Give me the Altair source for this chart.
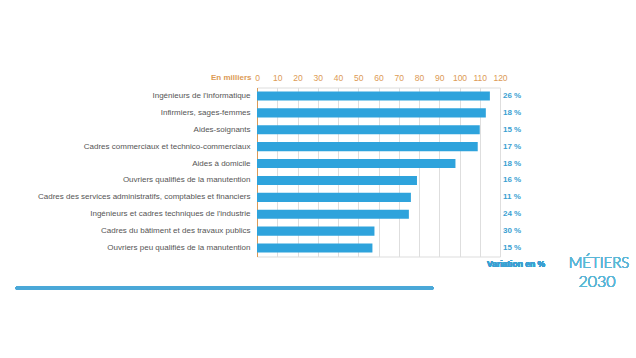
import altair as alt
import pandas as pd

categories = [
    "Ingénieurs de l'informatique",
    "Infirmiers, sages-femmes",
    "Aides-soignants",
    "Cadres commerciaux et technico-commerciaux",
    "Aides à domicile",
    "Ouvriers qualifiés de la manutention",
    "Cadres des services administratifs, comptables et financiers",
    "Ingénieurs et cadres techniques de l'industrie",
    "Cadres du bâtiment et des travaux publics",
    "Ouvriers peu qualifiés de la manutention",
]
values = [115, 113, 110, 109, 98, 79, 76, 75, 58, 57]
variations = ["26 %", "18 %", "15 %", "17 %", "18 %", "16 %", "11 %", "24 %", "30 %", "15 %"]
x_ticks = [0, 10, 20, 30, 40, 50, 60, 70, 80, 90, 100, 110, 120]

df = pd.DataFrame({"cat": categories, "val": values, "var": variations})

BLUE = "#2ea3dc"
ORANGE = "#dc9a55"
W, H = 243, 169

y_axis = alt.Axis(
    title=None, labelColor="#555555", labelFontSize=8, labelFont="Liberation Sans",
    ticks=False, labelPadding=7, domainColor=ORANGE, domainWidth=1, grid=False,
    labelLimit=300,
)
y_scale = alt.Scale(paddingInner=0.46, paddingOuter=0.23)

x_axis = alt.Axis(
    orient="top", values=x_ticks, title="En milliers", titleX=-6, titleY=-10,
    titleAlign="right", titleBaseline="middle", titleColor=ORANGE,
    titleFontSize=8, titleFontWeight="bold", titleFont="Liberation Sans",
    labelColor=ORANGE, labelFontSize=8.5, labelFont="Liberation Sans",
    labelOverlap=False, labelFlush=False,
    ticks=False, domain=False, labelPadding=5, grid=True,
    gridColor="#dedede", gridWidth=1,
)
x_scale = alt.Scale(domain=[0, 120], nice=False)

bars = alt.Chart(df).mark_bar(color=BLUE).encode(
    x=alt.X("val:Q", scale=x_scale, axis=x_axis),
    y=alt.Y("cat:N", sort=categories, scale=y_scale, axis=y_axis),
)

pct = alt.Chart(df).mark_text(
    align="left", baseline="middle", dx=3, color="#3a9fd2", fontSize=8,
    fontWeight="bold", font="Liberation Sans",
).encode(
    x=alt.datum(120, type="quantitative", scale=x_scale, axis=x_axis),
    y=alt.Y("cat:N", sort=categories, scale=y_scale, axis=y_axis),
    text="var:N",
)

variation = alt.Chart(df).mark_text(
    align="center", baseline="middle", color="#3a9fd2", fontSize=8.5,
    fontWeight="bold", font="Liberation Sans",
).encode(x=alt.value(259), y=alt.value(176), text=alt.value("Variation en %"))

rule = alt.Chart(df).mark_rule(color="#4aa8d8", strokeWidth=3, strokeCap="round").encode(
    x=alt.value(-240), x2=alt.value(175), y=alt.value(200.5)
)

logo1 = alt.Chart(df).mark_text(
    align="center", baseline="middle", color="#5cb6d6", fontSize=15,
    fontWeight=300, font="Lato",
).encode(x=alt.value(342), y=alt.value(175), text=alt.value("MÉTIERS"))

logo2 = alt.Chart(df).mark_text(
    align="center", baseline="middle", color="#5cb6d6", fontSize=16,
    fontWeight=300, font="Lato",
).encode(x=alt.value(340), y=alt.value(194), text=alt.value("2030"))

chart = alt.layer(bars, pct, variation, rule, logo1, logo2).properties(
    width=W, height=H,
    autosize=alt.AutoSizeParams(type="none"),
    padding={"left": 257, "top": 87.5, "right": 636 - 257 - W, "bottom": 358 - 87.5 - H},
).configure_view(stroke=None).configure(background="white")

chart.save("out.html", embed_options={"renderer": "svg", "actions": False})
